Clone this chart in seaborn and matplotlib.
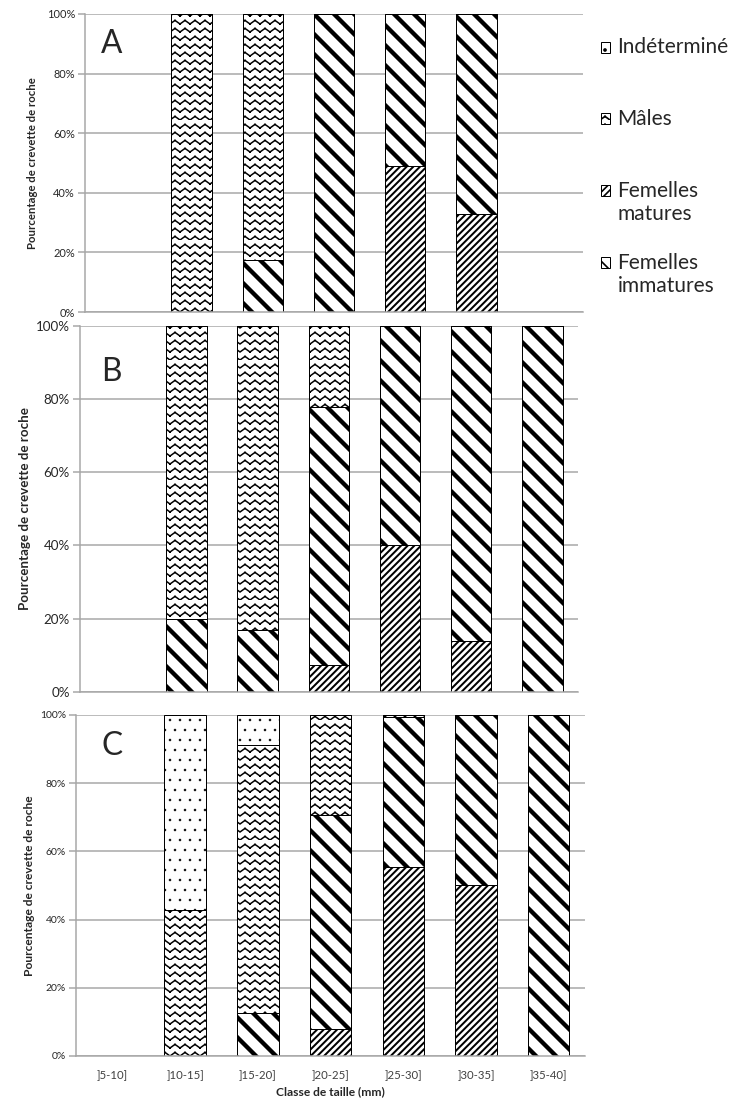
import warnings
import numpy as np
import pandas as pd
import seaborn as sns
import matplotlib.pyplot as plt
from matplotlib import hatch as mhatch
from matplotlib.path import Path
from matplotlib.patches import Patch, Rectangle
from matplotlib.legend_handler import HandlerPatch
from matplotlib.ticker import PercentFormatter

warnings.filterwarnings('ignore')

categories = [']5-10]', ']10-15]', ']15-20]', ']20-25]', ']25-30]', ']30-35]', ']35-40]']

# panel A
matures_a = [0, 0, 0, 0, 49, 33, 0]
immatures_a = [0, 0, 17.5, 100, 51, 67, 0]
males_a = [0, 100, 82.5, 0, 0, 0, 0]
indet_a = [0, 0, 0, 0, 0, 0, 0]

# panel B
matures_b = [0, 0, 0, 7.3, 40, 14, 0]
immatures_b = [0, 20, 17, 70.5, 60, 86, 100]
males_b = [0, 80, 83, 22.2, 0, 0, 0]
indet_b = [0, 0, 0, 0, 0, 0, 0]

# panel C
matures_c = [0, 0, 0, 8, 55.5, 50, 0]
immatures_c = [0, 0, 12.7, 62.8, 44, 50, 100]
males_c = [0, 42.7, 78.4, 29.2, 0.5, 0, 0]
indet_c = [0, 57.3, 8.9, 0, 0, 0, 0]

# stacking order, bottom to top
series = ['Femelles matures', 'Femelles immatures', 'Mâles', 'Indéterminé']
legend_order = ['Indéterminé', 'Mâles', 'Femelles matures', 'Femelles immatures']
# every label is two lines so all legend entries get the same height
legend_labels = {'Indéterminé': 'Indéterminé\n', 'Mâles': 'Mâles\n',
                 'Femelles matures': 'Femelles\nmatures',
                 'Femelles immatures': 'Femelles\nimmatures'}
hatches = {'Femelles matures': '//////', 'Femelles immatures': '\\\\',
           'Mâles': '~~', 'Indéterminé': '..'}
hatch_lw = {'Femelles matures': 1.2, 'Femelles immatures': 2.6,
            'Mâles': 0.9, 'Indéterminé': 0.3}


# zigzag hatch for the "Mâles" pattern (not built into matplotlib)
# built from separate 2-point segments so Agg does not fill the teeth
class ZigzagHatch(mhatch.HatchPatternBase):
    def __init__(self, hatch, density):
        self.num_rows = int(hatch.count('~') * density * 1.25)
        self.num_teeth = int(self.num_rows * 0.8)
        self.num_vertices = self.num_rows * self.num_teeth * 4

    def set_vertices_and_codes(self, vertices, codes):
        n = 2 * self.num_teeth + 1
        xs = np.linspace(0, 1, n)
        step = 1.0 / self.num_rows
        amp = step * 0.45
        k = 0
        for i in range(self.num_rows):
            ys = i * step + np.where(np.arange(n) % 2 == 0, 0, amp)
            for j in range(n - 1):
                vertices[k] = (xs[j], ys[j])
                vertices[k + 1] = (xs[j + 1], ys[j + 1])
                codes[k] = Path.MOVETO
                codes[k + 1] = Path.LINETO
                k += 2


mhatch._hatch_types.append(ZigzagHatch)

sns.set_style('white')
plt.rcParams['font.family'] = ['Lato', 'DejaVu Sans']
plt.rcParams['hatch.color'] = 'black'

grid_col = '#a6a6a6'


def draw_panel(ax, matures, immatures, males, indet, letter, letter_xy,
               tick_size, label_size):
    df = pd.DataFrame({'Femelles matures': matures, 'Femelles immatures': immatures,
                       'Mâles': males, 'Indéterminé': indet})
    cum = df[series].cumsum(axis=1)
    cum['classe'] = categories
    for col in reversed(series):
        n0 = len(ax.patches)
        sns.barplot(data=cum, x='classe', y=col, order=categories, color='white',
                    edgecolor='black', linewidth=0.6, hatch=hatches[col], width=0.57,
                    errorbar=None, saturation=1, ax=ax)
        for p in ax.patches[n0:]:
            if hasattr(p, 'set_hatch_linewidth'):
                p.set_hatch_linewidth(hatch_lw[col])
            if p.get_height() == 0:
                p.set_visible(False)
    ax.set_ylim(0, 100)
    ax.set_xlim(-0.5, len(categories) - 0.5)
    ax.set_yticks([0, 20, 40, 60, 80, 100])
    ax.yaxis.set_major_formatter(PercentFormatter(xmax=100, decimals=0))
    ax.yaxis.grid(True, color=grid_col, lw=0.9)
    ax.set_axisbelow(True)
    for s in ['top', 'right']:
        ax.spines[s].set_visible(False)
    for s in ['left', 'bottom']:
        ax.spines[s].set_color(grid_col)
        ax.spines[s].set_linewidth(0.9)
    ax.tick_params(axis='y', left=True, length=4, color=grid_col, width=0.9,
                   labelsize=tick_size, labelcolor='#262626', pad=2)
    ax.tick_params(axis='x', bottom=False, labelsize=6.8, labelcolor='#404040', pad=5)
    ax.set_ylabel('Pourcentage de crevette de roche', fontsize=label_size,
                  fontweight='bold')
    ax.set_xlabel('')
    ax.text(letter_xy[0], letter_xy[1], letter, transform=ax.transAxes,
            fontsize=19, ha='center', va='center')


fig = plt.figure(figsize=(739 / 120, 1101 / 120), dpi=120)
ax_a = fig.add_axes([0.115, 0.7166, 0.674, 0.2707])
ax_b = fig.add_axes([0.108, 0.3715, 0.674, 0.3327])
ax_c = fig.add_axes([0.103, 0.0409, 0.6887, 0.3097])

draw_panel(ax_a, matures_a, immatures_a, males_a, indet_a, 'A', (0.054, 0.90), 6.6, 6.8)
draw_panel(ax_b, matures_b, immatures_b, males_b, indet_b, 'B', (0.064, 0.874), 8.0, 8.0)
draw_panel(ax_c, matures_c, immatures_c, males_c, indet_c, 'C', (0.071, 0.909), 6.2, 7.2)

ax_a.set_xticklabels([])
ax_b.set_xticklabels([])
ax_a.yaxis.labelpad = 5
ax_b.yaxis.labelpad = 3
ax_c.yaxis.labelpad = 3
ax_c.set_xlabel('Classe de taille (mm)', fontsize=7.2, fontweight='bold', labelpad=3)


# legend marker sits on the first line of the label
def first_line_patch(legend, orig_handle, xdescent, ydescent, width, height, fontsize):
    return Rectangle((-xdescent, -ydescent + 0.6 * fontsize), width, height)


handles = []
for col in legend_order:
    h = Patch(facecolor='white', edgecolor='black', linewidth=0.6, hatch=hatches[col],
              label=legend_labels[col])
    if hasattr(h, 'set_hatch_linewidth'):
        h.set_hatch_linewidth(hatch_lw[col])
    handles.append(h)
fig.legend(handles=handles, loc='upper left', bbox_to_anchor=(0.813, 0.966),
           frameon=False, fontsize=12.5, handlelength=0.45, handleheight=0.45,
           handletextpad=0.35, labelspacing=1.37, borderaxespad=0, borderpad=0,
           handler_map={Patch: HandlerPatch(patch_func=first_line_patch)})

fig.savefig('out.png', dpi=120)
